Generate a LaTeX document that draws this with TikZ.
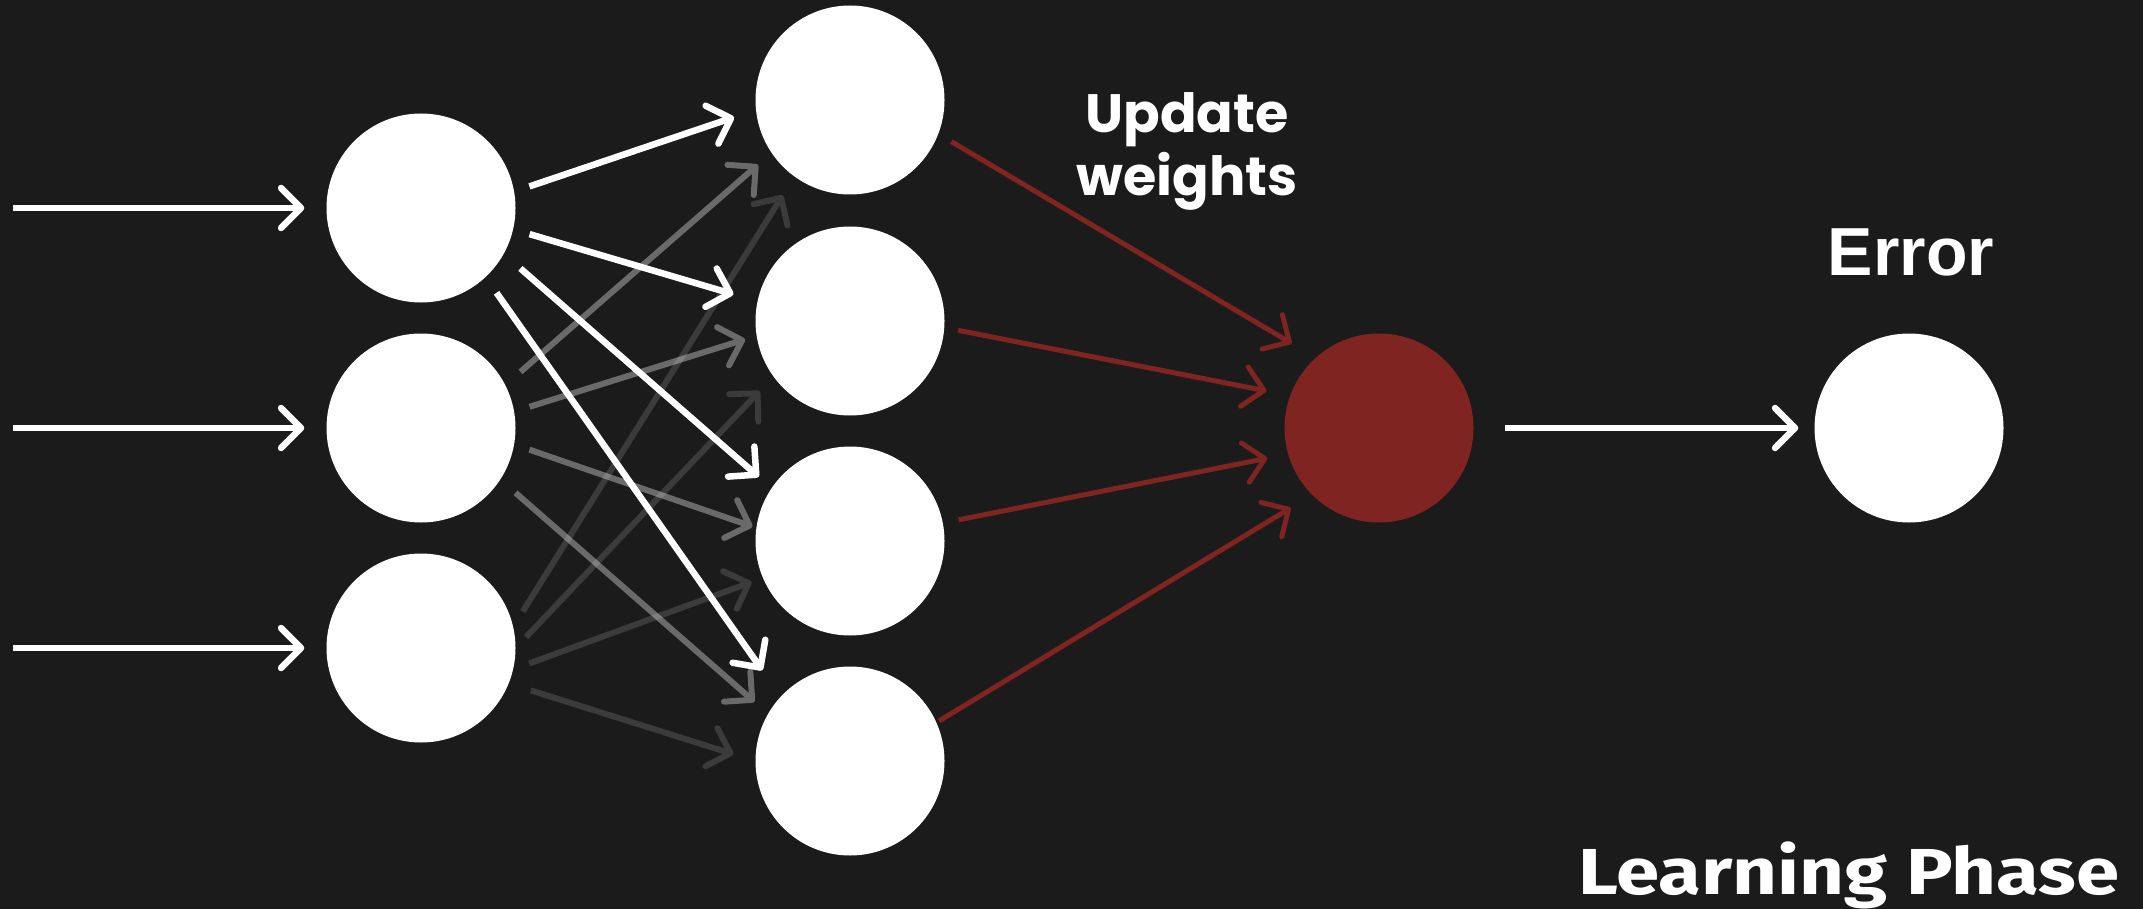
\documentclass[tikz,border=0pt]{standalone}
\usepackage{fontspec}
\usetikzlibrary{arrows.meta}
\newfontfamily\labelfont{Poppins}
\newfontfamily\errfont{Liberation Sans}
\newfontfamily\phasefont{Fira Sans}[FakeStretch=1.2]
\definecolor{bg}{RGB}{27,27,27}
\definecolor{wred}{RGB}{127,36,33}
\begin{document}
\begin{tikzpicture}[x=1pt,y=-1pt,
  neuron/.style={circle,fill=white,inner sep=0pt,minimum size=189pt},
  tiphead/.style={-{Straight Barb[length=20pt,width=40pt,round]}},
  wa/.style={tiphead,draw=white,line width=6.5pt},
  ga/.style={tiphead,draw=white,line width=6pt},
  ra/.style={tiphead,draw=wred,line width=5pt},
  lbl/.style={text=white,inner sep=0pt},
]
% canvas
\fill[bg] (0,0) rectangle (2143,909);
\useasboundingbox (0,0) rectangle (2143,909);

% input layer
\node[neuron] (i1) at (421,208) {};
\node[neuron] (i2) at (421,428) {};
\node[neuron] (i3) at (421,648) {};
% hidden layer
\node[neuron] (h1) at (850,100) {};
\node[neuron] (h2) at (850,321) {};
\node[neuron] (h3) at (850,541) {};
\node[neuron] (h4) at (850,761) {};
% output and error
\node[neuron,fill=wred] (r) at (1379,428) {};
\node[neuron] (e) at (1909,428) {};

% incoming signals
\coordinate (x1) at (13,208);
\coordinate (x2) at (13,428);
\coordinate (x3) at (13,648);
\draw[wa,shorten >=22pt] (x1) -- (i1);
\draw[wa,shorten >=22pt] (x2) -- (i2);
\draw[wa,shorten >=22pt] (x3) -- (i3);

% faint connections from the lowest input
\begin{scope}[transparency group,opacity=0.14]
\draw[ga,shorten <=18pt,shorten >=22pt] (i3.13) -- (h1.234);
\end{scope}
\begin{scope}[transparency group,opacity=0.14]
\draw[ga,shorten <=15pt,shorten >=20pt] (i3.0) -- (h2.216);
\end{scope}
\begin{scope}[transparency group,opacity=0.14]
\draw[ga,shorten <=17pt,shorten >=12pt] (i3.347) -- (h3.203);
\end{scope}
\begin{scope}[transparency group,opacity=0.14]
\draw[ga,shorten <=23pt,shorten >=23pt] (i3.338) -- (h4.180);
\end{scope}

% dimmed connections from the middle input
\begin{scope}[transparency group,opacity=0.35]
\draw[ga,shorten <=20pt,shorten >=18pt] (i2.27) -- (h1.214);
\end{scope}
\begin{scope}[transparency group,opacity=0.35]
\draw[ga,shorten <=16pt,shorten >=12pt] (i2.10) -- (h2.189);
\end{scope}
\begin{scope}[transparency group,opacity=0.35]
\draw[ga,shorten <=16pt,shorten >=4pt] (i2.350) -- (h3.172);
\end{scope}
\begin{scope}[transparency group,opacity=0.35]
\draw[ga,shorten <=20pt,shorten >=18pt] (i2.327) -- (h4.150);
\end{scope}

% active connections from the top input
\draw[wa,shorten <=16pt,shorten >=23pt] (i1.10) -- (h1.186);
\draw[wa,shorten <=17pt,shorten >=25pt] (i1.347) -- (h2.168);
\draw[wa,shorten <=22pt,shorten >=17pt] (i1.331) -- (h3.146);
\draw[wa,shorten <=19pt,shorten >=32pt] (i1.313) -- (h4.137);

% hidden to output
\draw[ra,shorten <=15pt,shorten >=28pt] (h1.339) -- (r.132);
\draw[ra,shorten <=14pt,shorten >=24pt] (h2.356) -- (r.160);
\draw[ra,shorten <=16pt,shorten >=21pt] (h3.11) -- (r.196);
\draw[ra,shorten <=3pt,shorten >=25pt] (h4.24) -- (r.225);

% output to error
\draw[wa,shorten <=31pt,shorten >=16pt] (r) -- (e);

% labels
\node[lbl,font=\labelfont\bfseries\fontsize{54}{63}\selectfont,align=center,anchor=base] (upd) at (1187,196) {Update\\weights};
\node[lbl,font=\errfont\bfseries\fontsize{68}{68}\selectfont,anchor=base] (err) at (1911,276) {Error};
\node[lbl,font=\phasefont\bfseries\fontsize{65}{65}\selectfont,anchor=base west] (phase) at (1578,894) {Learning Phase};
\end{tikzpicture}
\end{document}
